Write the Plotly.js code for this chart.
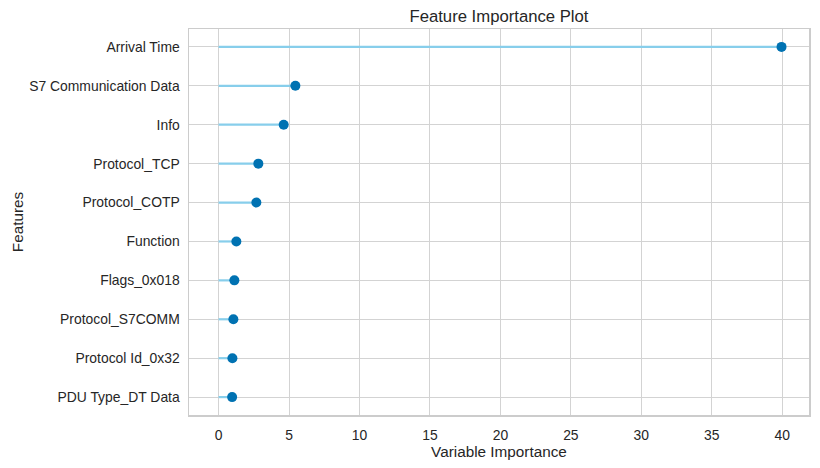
<!DOCTYPE html>
<html>
<head>
<meta charset="utf-8">
<script src="https://cdn.plot.ly/plotly-3.0.1.min.js"></script>
<style>html,body{margin:0;padding:0;background:#fff;}#chart{width:820px;height:468px;}</style>
</head>
<body>
<div id="chart"></div>
<script>
const features = ["Arrival Time", "S7 Communication Data", "Info", "Protocol_TCP", "Protocol_COTP",
  "Function", "Flags_0x018", "Protocol_S7COMM", "Protocol Id_0x32", "PDU Type_DT Data"];
const importance = [39.95, 5.45, 4.62, 2.82, 2.68, 1.26, 1.12, 1.05, 0.98, 0.96];
const xTicks = [0, 5, 10, 15, 20, 25, 30, 35, 40];

const stemX = [], stemY = [];
features.forEach((f, i) => { stemX.push(0, importance[i], null); stemY.push(f, f, null); });

const font = "'Liberation Sans', Arial, sans-serif";
const data = [
  {type: "scatter", mode: "lines", x: stemX, y: stemY, line: {color: "#87CEEB", width: 2.2},
   hoverinfo: "skip", showlegend: false},
  {type: "scatter", mode: "markers", x: importance, y: features,
   marker: {color: "#0072B2", size: 10}, showlegend: false}
];
const layout = {
  width: 820, height: 468,
  margin: {l: 189, r: 11, t: 29, b: 53},
  paper_bgcolor: "#fff", plot_bgcolor: "#fff",
  font: {family: font, color: "#262626", size: 13.9},
  title: {text: "Feature Importance Plot", x: 0.6085, xanchor: "center", y: 0.965, yanchor: "middle",
          font: {family: font, size: 16.7, color: "#262626"}},
  xaxis: {range: [-2.1, 41.9], tickvals: xTicks, ticktext: xTicks.map(String),
          showgrid: true, gridcolor: "#d3d3d3", gridwidth: 1, zeroline: false,
          showline: true, mirror: true, linecolor: "#cccccc", linewidth: 1.5,
          ticks: "outside", ticklen: 7, tickcolor: "rgba(0,0,0,0)",
          tickfont: {size: 13.9, color: "#262626"},
          title: {text: "Variable Importance", standoff: 3, font: {size: 15.3, color: "#262626"}}},
  yaxis: {type: "category", categoryorder: "array", categoryarray: features,
          range: [9.46, -0.46],
          showgrid: true, gridcolor: "#d3d3d3", gridwidth: 1, zeroline: false,
          showline: true, mirror: true, linecolor: "#cccccc", linewidth: 1.5,
          ticks: "outside", ticklen: 5, tickcolor: "rgba(0,0,0,0)",
          tickfont: {size: 13.9, color: "#262626"},
          title: {text: "Features", standoff: 2, font: {size: 15.3, color: "#262626"}}}
};
Plotly.newPlot("chart", data, layout, {displayModeBar: false, staticPlot: true});
</script>
</body>
</html>
